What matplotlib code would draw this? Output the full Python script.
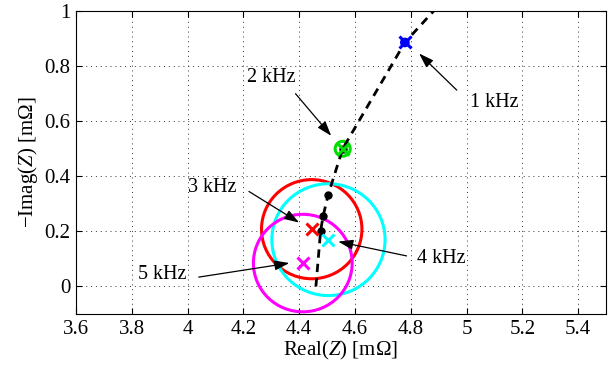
import matplotlib
matplotlib.use('Agg')
import matplotlib.pyplot as plt
from matplotlib.patches import Circle

plt.rcParams['font.family'] = ['Liberation Serif', 'DejaVu Serif']
plt.rcParams['mathtext.fontset'] = 'custom'
plt.rcParams['mathtext.rm'] = 'Liberation Serif'
plt.rcParams['mathtext.it'] = 'Liberation Serif:italic'

# impedance locus (real, -imag) in mOhm
curve_re = [4.46, 4.477, 4.486, 4.504, 4.556, 4.779, 4.90]
curve_im = [0.0, 0.203, 0.256, 0.333, 0.500, 0.886, 1.02]

# black sample points on the locus
dot_re = [4.477, 4.486, 4.504, 4.556]
dot_im = [0.203, 0.256, 0.333, 0.500]

# estimated points with uncertainty circles, per frequency
freqs = ['1 kHz', '2 kHz', '3 kHz', '4 kHz', '5 kHz']
est_re = [4.779, 4.556, 4.445, 4.505, 4.413]
est_im = [0.886, 0.500, 0.208, 0.170, 0.085]
radius = [0.012, 0.027, 0.180, 0.203, 0.177]
colors = ['blue', '#00dd00', 'red', 'cyan', 'magenta']

# annotation text positions and arrow tips
label_x = [5.10, 4.30, 4.09, 4.91, 3.91]
label_y = [0.668, 0.758, 0.36, 0.10, 0.045]
tip_x = [4.83, 4.515, 4.40, 4.54, 4.365]
tip_y = [0.846, 0.547, 0.232, 0.163, 0.085]
tail_x = [4.965, 4.387, 4.22, 4.785, 4.04]
tail_y = [0.713, 0.70, 0.345, 0.111, 0.034]

xticks = [3.6, 3.8, 4, 4.2, 4.4, 4.6, 4.8, 5, 5.2, 5.4]
xticklabels = ['3.6', '3.8', '4', '4.2', '4.4', '4.6', '4.8', '5', '5.2', '5.4']
yticks = [0, 0.2, 0.4, 0.6, 0.8, 1]
yticklabels = ['0', '0.2', '0.4', '0.6', '0.8', '1']

fig = plt.figure(figsize=(6.11, 3.69), dpi=100)
ax = fig.add_axes([0.1244, 0.149, 0.8674, 0.821])

ax.plot(curve_re, curve_im, 'k--', lw=2, dashes=(3, 2.2), zorder=3)
ax.plot(dot_re, dot_im, 'k.', ms=10, zorder=3)

for i in range(len(freqs)):
    ax.add_patch(Circle((est_re[i], est_im[i]), radius[i], fill=False,
                        ec=colors[i], lw=2.2, zorder=2))
    ax.plot(est_re[i], est_im[i], 'x', color=colors[i], ms=8, mew=2.2, zorder=4)
    ax.annotate('', xy=(tip_x[i], tip_y[i]), xytext=(tail_x[i], tail_y[i]),
                arrowprops=dict(arrowstyle='-|>,head_length=0.9,head_width=0.3',
                                color='k', lw=0.9, shrinkA=0, shrinkB=0))
    ax.text(label_x[i], label_y[i], freqs[i], fontsize=14.5,
            ha='center', va='center')

ax.set_xlim(3.6, 5.5)
ax.set_ylim(-0.1, 1)
ax.set_xticks(xticks)
ax.set_xticklabels(xticklabels)
ax.set_yticks(yticks)
ax.set_yticklabels(yticklabels)
ax.tick_params(direction='in', labelsize=15, length=4, pad=4, top=True, right=True)
ax.grid(True, linestyle=(0, (1, 4)), color='#333333', lw=0.7)
ax.set_xlabel('Real($Z$) [m$\\Omega$]', fontsize=15, labelpad=0)
ax.set_ylabel('$-$Imag($Z$) [m$\\Omega$]', fontsize=15, labelpad=3)

fig.savefig('out.png', dpi=100)
